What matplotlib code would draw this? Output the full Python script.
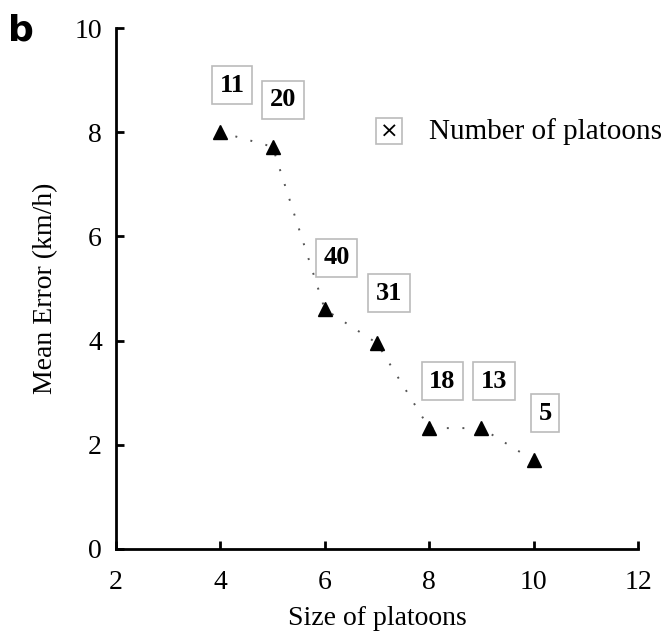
import matplotlib
matplotlib.use("Agg")
import matplotlib.pyplot as plt

sizes = [4, 5, 6, 7, 8, 9, 10]
mean_error = [8.0, 7.72, 4.6, 3.95, 2.32, 2.32, 1.7]
num_platoons = ["11", "20", "40", "31", "18", "13", "5"]
label_x = [4.22, 5.2, 6.23, 7.23, 8.25, 9.24, 10.22]
label_y = [8.9, 8.62, 5.59, 4.91, 3.22, 3.22, 2.61]

plt.rcParams['font.family'] = ['Liberation Serif', 'DejaVu Serif']

fig = plt.figure(figsize=(6.69, 6.31), dpi=100)
ax = fig.add_axes([0.1734, 0.13, 0.7803, 0.8256])

ax.plot(sizes, mean_error, color='#555555', linestyle=(0, (1, 7)), linewidth=1.4, zorder=1)
ax.plot(sizes, mean_error, linestyle='none', marker='^', color='black', markersize=10, zorder=2)

for lx, ly, t in zip(label_x, label_y, num_platoons):
    ax.text(lx, ly, t, ha='center', va='center', fontsize=19, fontweight='bold',
            bbox=dict(boxstyle='square,pad=0.28', facecolor='white', edgecolor='#bbbbbb', linewidth=1.2))

# legend-like annotation
ax.text(7.23, 8.02, "\u00d7", ha='center', va='center', fontsize=16, family='DejaVu Sans',
        bbox=dict(boxstyle='square,pad=0.15', facecolor='white', edgecolor='#bbbbbb', linewidth=1.2))
ax.text(8.0, 8.02, "Number of platoons", ha='left', va='center', fontsize=21)

ax.set_xlim(2, 12)
ax.set_ylim(0, 10)
ax.set_xticks([2, 4, 6, 8, 10, 12])
ax.set_yticks([0, 2, 4, 6, 8, 10])
ax.spines['top'].set_visible(False)
ax.spines['right'].set_visible(False)
ax.spines['left'].set_linewidth(2)
ax.spines['bottom'].set_linewidth(2)
ax.tick_params(direction='in', length=6, width=2, labelsize=20)
ax.tick_params(axis='x', pad=15)
ax.tick_params(axis='y', pad=10)
ax.set_xlabel("Size of platoons", fontsize=20, labelpad=8)
ax.set_ylabel("Mean Error (km/h)", fontsize=20, labelpad=12)

fig.text(0.012, 0.952, "b", fontsize=26, fontweight='bold', family='DejaVu Sans', va='center', ha='left')

fig.savefig("out.png", dpi=100)
